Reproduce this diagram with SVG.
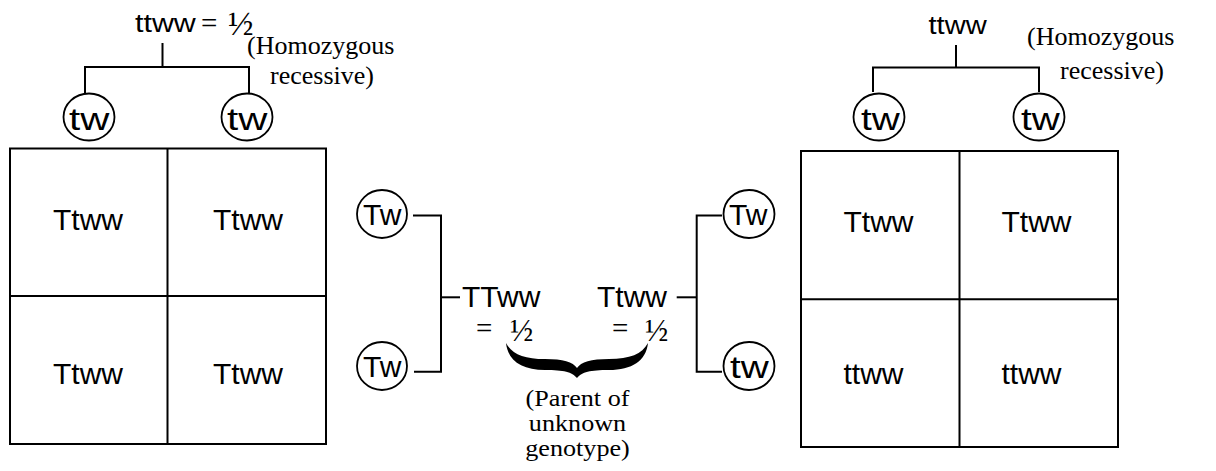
<svg xmlns="http://www.w3.org/2000/svg" width="1216" height="471" viewBox="0 0 1216 471">
<style>
.ln{stroke:#000;stroke-width:2;fill:none}
.cir{stroke:#000;stroke-width:1.8;fill:#fff}
.sans{font-family:"Liberation Sans",Arial,sans-serif;fill:#000}
.serif{font-family:"Liberation Serif","Times New Roman",serif;fill:#000}
.cell{font-size:30px}
.ct{font-size:30px}
.sr{font-size:26px}
.pr{font-size:24px}
</style>
<rect width="1216" height="471" fill="#fff"/>
<g id="connectors">
<polyline class="ln" points="162.5,43 162.5,67"/>
<polyline class="ln" points="85,93 85,67 249,67 249,93"/>
<polyline class="ln" points="956,45 956,67.5"/>
<polyline class="ln" points="873,92 873,67.5 1039,67.5 1039,92"/>
<polyline class="ln" points="413,215.5 441,215.5 441,371.7 414,371.7"/>
<line class="ln" x1="441" y1="297.3" x2="460" y2="297.3"/>
<polyline class="ln" points="722,215.5 696.7,215.5 696.7,371.7 722,371.7"/>
<line class="ln" x1="676.7" y1="297.3" x2="696.7" y2="297.3"/>
</g>
<g id="left-parent">
<text class="sans" transform="translate(135 32) scale(1.17 1)" font-size="26">ttww</text>
<text class="serif" x="201" y="33" font-size="29">=</text>
<text class="serif" x="228" y="35" font-size="34">½</text>
<text class="serif sr" x="247" y="54">(Homozygous</text>
<text class="serif sr" x="270" y="84">recessive)</text>
</g>
<g id="left-gamete-1"><ellipse class="cir" cx="89" cy="117" rx="25.5" ry="23.5"/><text class="sans" transform="translate(69 129.5) scale(1.3 1)" font-size="31">tw</text></g>
<g id="left-gamete-2"><ellipse class="cir" cx="247" cy="117" rx="25.5" ry="23.5"/><text class="sans" transform="translate(227 129.5) scale(1.3 1)" font-size="31">tw</text></g>
<g id="left-grid">
<rect class="ln" x="10" y="148.5" width="316" height="295.5"/>
<line class="ln" x1="167.5" y1="148.5" x2="167.5" y2="444"/>
<line class="ln" x1="10" y1="296" x2="326" y2="296"/>
<text class="sans cell" x="53" y="230">Ttww</text>
<text class="sans cell" x="213" y="230">Ttww</text>
<text class="sans cell" x="53" y="383.5">Ttww</text>
<text class="sans cell" x="213" y="383.5">Ttww</text>
</g>
<g id="mid-gamete-1"><ellipse class="cir" cx="382" cy="214" rx="25" ry="24"/><text class="sans ct" x="363" y="225">Tw</text></g>
<g id="mid-gamete-2"><ellipse class="cir" cx="382" cy="366" rx="25" ry="24"/><text class="sans ct" x="363" y="377">Tw</text></g>
<g id="mid-gamete-3"><ellipse class="cir" cx="749" cy="214" rx="25.5" ry="24"/><text class="sans ct" x="729" y="225">Tw</text></g>
<g id="mid-gamete-4"><ellipse class="cir" cx="749" cy="366" rx="25.5" ry="24"/><text class="sans" transform="translate(730 378) scale(1.25 1)" font-size="31">tw</text></g>
<g id="parent-TTww">
<text class="sans" x="462" y="307" font-size="30">TTww</text>
<text class="serif" x="476" y="338" font-size="29">=</text>
<text class="serif" x="510" y="341" font-size="31">½</text>
</g>
<g id="parent-Ttww">
<text class="sans" x="597" y="307" font-size="30">Ttww</text>
<text class="serif" x="612" y="338" font-size="29">=</text>
<text class="serif" x="645" y="341" font-size="31">½</text>
</g>
<g id="brace">
<path fill="#000" d="M506,343 C508,361 522,370 545,370 C564,370 572,372 577,378 C582,372 590,370 609,370 C632,370 646,361 648,343 C642,354 630,359 609,359 C591,359 581,362 577,368 C573,362 563,359 545,359 C524,359 512,354 506,343 Z"/>
<text class="serif pr" transform="translate(577.5 406) scale(1.09 1)" text-anchor="middle">(Parent of</text>
<text class="serif pr" transform="translate(577.5 431) scale(1.09 1)" text-anchor="middle">unknown</text>
<text class="serif pr" transform="translate(577.5 456) scale(1.09 1)" text-anchor="middle">genotype)</text>
</g>
<g id="right-parent">
<text class="sans" transform="translate(928.5 33.5) scale(1.12 1)" font-size="26">ttww</text>
<text class="serif sr" x="1027" y="45">(Homozygous</text>
<text class="serif sr" x="1060" y="79">recessive)</text>
</g>
<g id="right-gamete-1"><ellipse class="cir" cx="879" cy="117" rx="25.5" ry="23.5"/><text class="sans" transform="translate(861 130) scale(1.25 1)" font-size="31">tw</text></g>
<g id="right-gamete-2"><ellipse class="cir" cx="1039" cy="117" rx="25.5" ry="23.5"/><text class="sans" transform="translate(1021 130) scale(1.25 1)" font-size="31">tw</text></g>
<g id="right-grid">
<rect class="ln" x="801" y="151" width="317" height="296"/>
<line class="ln" x1="959.5" y1="151" x2="959.5" y2="447"/>
<line class="ln" x1="801" y1="299.3" x2="1118" y2="299.3"/>
<text class="sans cell" x="843.5" y="231.5">Ttww</text>
<text class="sans cell" x="1001.5" y="231.5">Ttww</text>
<text class="sans cell" x="843.5" y="384">ttww</text>
<text class="sans cell" x="1001.5" y="384">ttww</text>
</g>
</svg>
